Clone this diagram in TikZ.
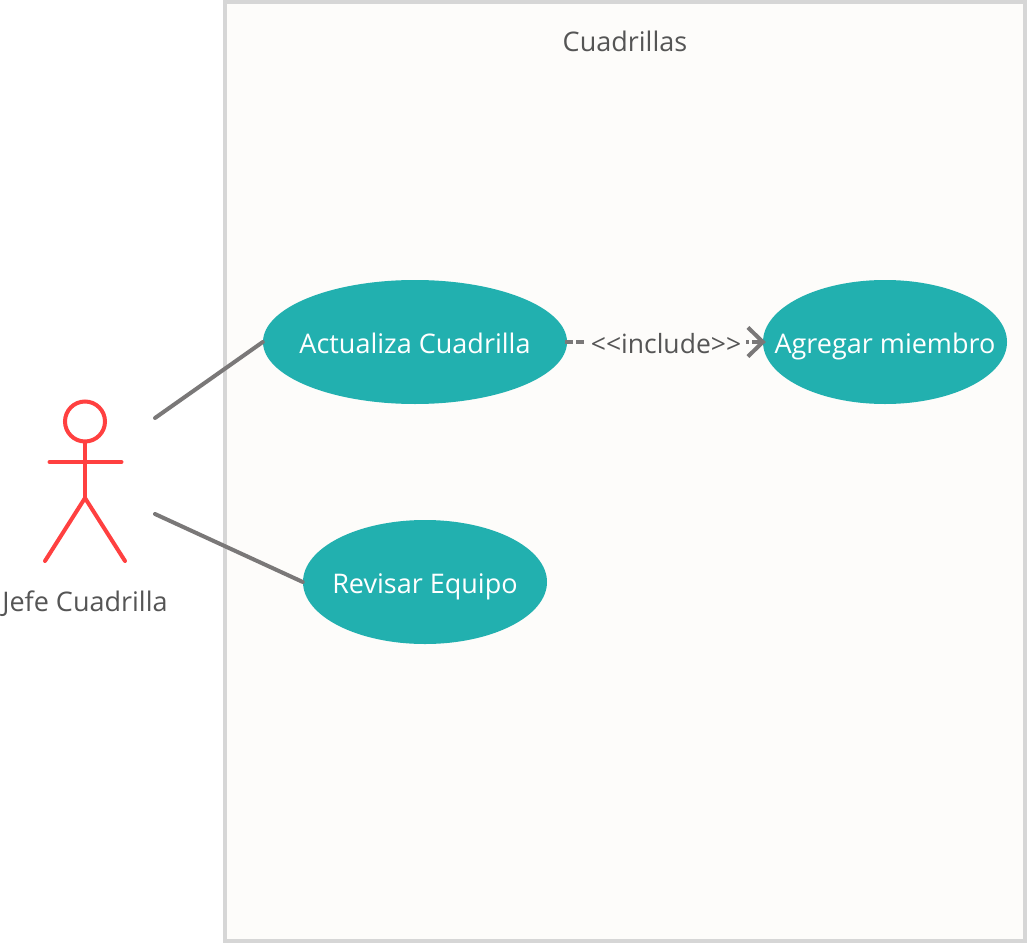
\documentclass[tikz,border=0pt]{standalone}
\usepackage{fontspec}
\setmainfont{Open Sans}
\usetikzlibrary{positioning}
\usetikzlibrary{arrows.meta}
\usetikzlibrary{shapes.geometric}
\definecolor{teal}{RGB}{34,176,175}
\definecolor{red}{RGB}{255,64,64}
\definecolor{frame}{RGB}{214,214,214}
\definecolor{paper}{RGB}{253,252,250}
\definecolor{link}{RGB}{122,120,120}
\definecolor{label}{RGB}{85,85,85}

\tikzset{
    usecase/.style={ellipse, fill=teal, text=white, inner xsep=-40pt, inner ysep=-5pt, text height=25pt, text depth=3pt, font=\fontsize{27}{32}\selectfont},
    plain/.style={text=label, inner sep=0pt, text height=25pt, text depth=4pt, font=\fontsize{27}{32}\selectfont},
    limb/.style={draw=red, line width=4pt, line cap=round},
    link/.style={draw=link, line width=4pt, line cap=round},
}

\begin{document}
\begin{tikzpicture}[x=1pt, y=-1pt]
    \useasboundingbox (0, 0) rectangle (1027, 944);
    \fill[white] (0, 0) rectangle (1027, 944);
    \draw[draw=frame, fill=paper, line width=4pt] (225, 2) rectangle (1025, 941);
    \node[plain] (system) at (625, 41) {Cuadrillas};

    \node[usecase, minimum width=304pt, minimum height=124pt] (actualiza) at (415, 342) {Actualiza Cuadrilla};
    \node[usecase, minimum width=244pt, minimum height=124pt] (agregar) at (885, 342) {Agregar miembro};
    \node[usecase, minimum width=244pt, minimum height=124pt] (revisar) at (425, 582) {Revisar Equipo};

    % actor
    \node[circle, draw=red, line width=4pt, minimum size=40pt, inner sep=0pt] (head) at (85, 421.5) {};
    \coordinate (hip) at (85, 498);
    \coordinate (armL) at (49.5, 462);
    \coordinate (armR) at (121.5, 462);
    \coordinate (footL) at (45, 561);
    \coordinate (footR) at (125, 561);
    \draw[limb] (head.south) -- (hip);
    \draw[limb] (armL) -- (armR);
    \draw[limb] (footL) -- (hip) -- (footR);
    \node[plain] (jefe) at (85, 601) {Jefe Cuadrilla};

    % links
    \coordinate (actorA) at (155, 418);
    \coordinate (actorB) at (155, 514);
    \draw[link] (actorA) -- (actualiza.west);
    \draw[link] (actorB) -- (revisar.west);
    \draw[link, dash pattern=on 8pt off 3pt, line cap=butt, shorten >=-3pt, shorten <=-2pt, -{Straight Barb[length=15pt, width=29pt, line width=4pt, line cap=butt]}] (actualiza.east) -- (agregar.west);
    \node[plain, fill=paper, inner xsep=5pt, inner ysep=0pt, font=\fontsize{26.5}{32}\selectfont] (include) at (666, 343) {<{}<include>{}>};
\end{tikzpicture}
\end{document}
